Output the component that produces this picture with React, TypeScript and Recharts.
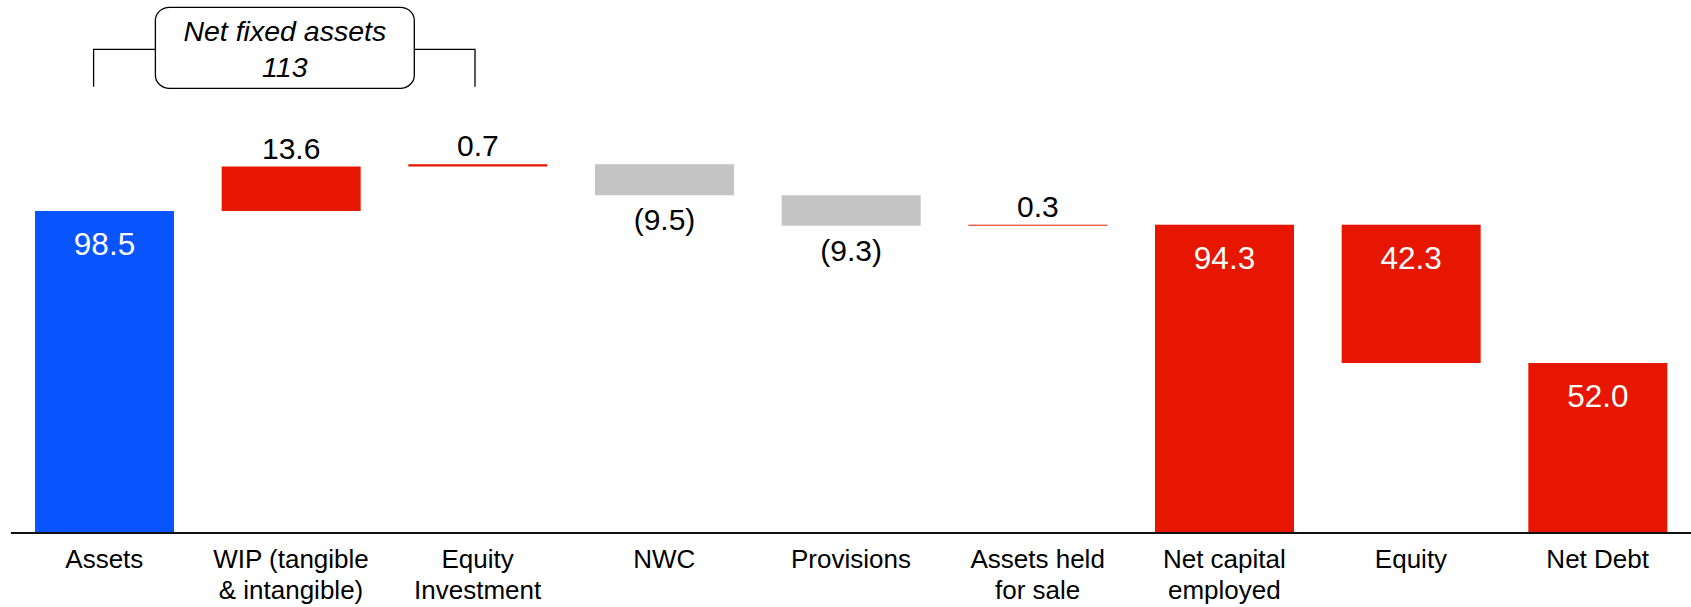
import React from "react";
import { BarChart, Bar, XAxis, YAxis } from "recharts";

const categories = [
  "Assets",
  "WIP (tangible\n& intangible)",
  "Equity\nInvestment",
  "NWC",
  "Provisions",
  "Assets held\nfor sale",
  "Net capital\nemployed",
  "Equity",
  "Net Debt",
];
const amounts = [98.5, 13.6, 0.7, 9.5, 9.3, 0.3, 94.3, 42.3, 52.0];
const steps = ["start", "up", "up", "down", "down", "up", "total", "split", "total"];
const bracketTitle = "Net fixed assets";
const bracketValue = "113";

const FONT = "'Liberation Sans', Arial, Helvetica, sans-serif";
const BLUE = "#0855FF";
const RED = "#E61600";
const GRAY = "#C4C4C4";

let running = 0;
const data = categories.map((name, i) => {
  const v = amounts[i];
  const s = steps[i];
  let low = 0;
  let high = 0;
  if (s === "start" || s === "total") {
    low = 0;
    high = v;
    running = v;
  } else if (s === "up") {
    low = running;
    high = running + v;
    running = high;
  } else {
    low = running - v;
    high = running;
    running = low;
  }
  return { name, range: [low, high], amount: v, step: s };
});

const fillFor = (step: string) => {
  if (step === "start") return BLUE;
  if (step === "down") return GRAY;
  return RED;
};

const SText = (p: { x: number; y: number; size: number; fill: string; italic?: boolean; children: React.ReactNode }) => (
  <text
    x={p.x}
    y={p.y}
    textAnchor="middle"
    fill={p.fill}
    fontSize={p.size}
    fontStyle={p.italic ? "italic" : "normal"}
    fontFamily={FONT}
  >
    {p.children}
  </text>
);

const WaterfallShape = (props: any) => {
  const { x, y, width, height, index } = props;
  const entry = data[index];
  const top = Math.min(y, y + height);
  const h = Math.abs(height);
  const bottom = top + h;
  const cx = x + width / 2;
  const s = entry.step;
  const txt = s === "down" ? `(${entry.amount.toFixed(1)})` : entry.amount.toFixed(1);
  let label: React.ReactNode = null;
  if (s === "start" || s === "total" || s === "split") {
    label = (
      <SText x={cx} y={top + 44} size={31.5} fill="#fff">
        {txt}
      </SText>
    );
  } else if (s === "up") {
    label = (
      <SText x={cx} y={top - 8} size={30} fill="#000">
        {txt}
      </SText>
    );
  } else {
    label = (
      <SText x={cx} y={bottom + 35} size={30} fill="#000">
        {txt}
      </SText>
    );
  }
  return (
    <g>
      <rect x={x} y={top} width={width} height={Math.max(h, 0.8)} fill={fillFor(s)} />
      {label}
    </g>
  );
};

const CategoryTick = (props: any) => {
  const { x, y, payload } = props;
  const lines = String(payload.value).split("\n");
  return (
    <g>
      {lines.map((ln: string, i: number) => (
        <SText key={i} x={x} y={y + 34.5 + i * 31.7} size={26} fill="#000">
          {ln}
        </SText>
      ))}
    </g>
  );
};

export default function App() {
  return (
    <div style={{ position: "absolute", left: 0, top: 0, width: 1691, height: 607, background: "#fff" }}>
      <BarChart
        width={1691}
        height={607}
        data={data}
        margin={{ top: 108, right: 0, bottom: 14, left: 11 }}
        barSize={139}
      >
        <YAxis hide type="number" domain={[0, 130]} />
        <XAxis
          dataKey="name"
          interval={0}
          height={60}
          tickLine={false}
          tickSize={0}
          tickMargin={0}
          axisLine={{ stroke: "#111", strokeWidth: 2 }}
          tick={<CategoryTick />}
        />
        <Bar dataKey="range" isAnimationActive={false} shape={<WaterfallShape />} />
      </BarChart>
      <svg
        width={1691}
        height={607}
        style={{ position: "absolute", left: 0, top: 0, pointerEvents: "none" }}
      >
        <path d="M93.6 86.7 V49.3 H155.4" fill="none" stroke="#000" strokeWidth={1.3} />
        <path d="M414.3 49.3 H475 V86.7" fill="none" stroke="#000" strokeWidth={1.3} />
        <rect x={155.4} y={7.3} width={258.9} height={81} rx={14} ry={13} fill="#fff" stroke="#000" strokeWidth={1.3} />
        <SText x={284.8} y={40.7} size={28.5} fill="#000" italic>
          {bracketTitle}
        </SText>
        <SText x={284.8} y={76.7} size={28.5} fill="#000" italic>
          {bracketValue}
        </SText>
      </svg>
    </div>
  );
}
